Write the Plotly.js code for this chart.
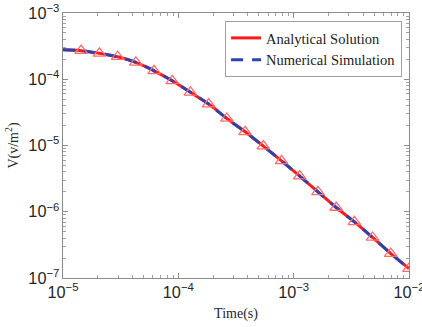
<!DOCTYPE html>
<html>
<head>
<meta charset="utf-8">
<script src="https://cdn.plot.ly/plotly-3.0.1.min.js"></script>
<style>html,body{margin:0;padding:0;background:#fff;}#chart{width:422px;height:327px;}</style>
</head>
<body>
<div id="chart"></div>
<script>
// Time (s) at sampled points
const time = [1.0e-5, 1.438e-5, 2.069e-5, 2.976e-5, 4.281e-5, 6.158e-5, 8.859e-5, 1.274e-4, 1.833e-4, 2.637e-4, 3.793e-4, 5.456e-4, 7.848e-4, 1.129e-3, 1.624e-3, 2.336e-3, 3.360e-3, 4.833e-3, 6.952e-3, 1.0e-2];
// Analytical solution V (v/m^2)
const analytical = [2.78e-4, 2.70e-4, 2.46e-4, 2.19e-4, 1.80e-4, 1.34e-4, 9.48e-5, 6.34e-5, 4.22e-5, 2.56e-5, 1.61e-5, 9.8e-6, 5.87e-6, 3.45e-6, 2.00e-6, 1.16e-6, 7.03e-7, 4.09e-7, 2.34e-7, 1.39e-7];
// Numerical simulation V (v/m^2)
const numerical = [2.78e-4, 2.70e-4, 2.46e-4, 2.19e-4, 1.80e-4, 1.34e-4, 9.48e-5, 6.34e-5, 4.22e-5, 2.56e-5, 1.61e-5, 9.8e-6, 5.87e-6, 3.45e-6, 2.00e-6, 1.16e-6, 7.03e-7, 4.09e-7, 2.34e-7, 1.39e-7];
// Marker samples
const markerTime = time.slice(1);
const markerV = analytical.slice(1);

const serif = 'Liberation Serif, Times New Roman, serif';
const sans = 'Liberation Sans, Arial, sans-serif';

const traces = [
  {x: time, y: analytical, type: 'scatter', mode: 'lines', name: 'Analytical Solution',
   line: {color: '#ff1a1a', width: 3, shape: 'spline'}},
  {x: time, y: numerical, type: 'scatter', mode: 'lines', name: 'Numerical Simulation',
   line: {color: '#2b44b0', width: 3, dash: '12px,9px', shape: 'spline'}},
  {x: markerTime, y: markerV, type: 'scatter', mode: 'markers', showlegend: false,
   marker: {symbol: 'triangle-up-open', size: 11, color: '#ff6b6b', line: {width: 1.3, color: '#ff6b6b'}}}
];

const axisCommon = {
  type: 'log', showgrid: false, zeroline: false, showline: true, linecolor: '#8c8c8c', linewidth: 1,
  mirror: 'ticks', ticks: 'inside', ticklen: 5, tickcolor: '#8c8c8c', dtick: 1,
  exponentformat: 'power', ticklabeloverflow: 'allow',
  tickfont: {family: sans, size: 13, color: '#262626'},
  minor: {ticks: 'inside', ticklen: 3, tickcolor: '#a0a0a0', showgrid: false}
};

const layout = {
  width: 422, height: 327,
  margin: {l: 63, r: 13, t: 13, b: 49},
  paper_bgcolor: '#fff', plot_bgcolor: '#fff',
  showlegend: true,
  legend: {x: 0.98, xanchor: 'right', y: 0.97, yanchor: 'top',
    bgcolor: '#fff', bordercolor: '#a0a0a0', borderwidth: 1,
    font: {family: serif, size: 14.5, color: '#222'}, tracegroupgap: 0, itemwidth: 30},
  xaxis: Object.assign({}, axisCommon, {range: [-5, -2],
    title: {text: 'Time(s)', font: {family: serif, size: 14, color: '#262626'}, standoff: 8}}),
  yaxis: Object.assign({}, axisCommon, {range: [-7, -3],
    title: {text: 'V(v/m<sup>2</sup>)', font: {family: serif, size: 14, color: '#262626'}, standoff: 6}})
};

Plotly.newPlot('chart', traces, layout, {displayModeBar: false, staticPlot: true});
</script>
</body>
</html>
